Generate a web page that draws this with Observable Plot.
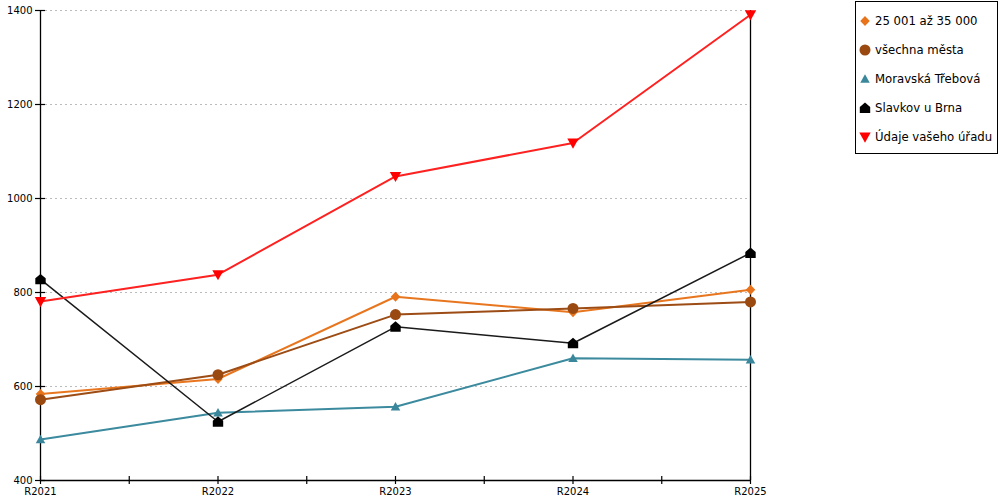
<!DOCTYPE html>
<html>
<head>
<meta charset="utf-8">
<script src="https://cdn.jsdelivr.net/npm/d3@7"></script>
<script src="https://cdn.jsdelivr.net/npm/@observablehq/plot@0.6"></script>
<style>
  html, body { margin: 0; padding: 0; background: #fff; }
  #wrap { position: relative; width: 1000px; height: 500px; font-family: "DejaVu Sans", sans-serif; }
  #legend { position: absolute; left: 855px; top: 1px; width: 143px; height: 153px; border: 1px solid #000; box-sizing: border-box; background: #fff; }
  .item { position: absolute; left: 0; height: 16px; display: flex; align-items: center; font-size: 11.7px; color: #000; white-space: nowrap; }
  .item svg { margin-left: 2px; margin-right: 3px; }
</style>
</head>
<body>
<div id="wrap"><div id="chart"></div><div id="legend"></div></div>
<script>
const years = ["R2021", "R2022", "R2023", "R2024", "R2025"];
const seriesNames = ["25 001 až 35 000", "všechna města", "Moravská Třebová", "Slavkov u Brna", "Údaje vašeho úřadu"];
const s1 = [584, 616, 791, 758, 806];
const s2 = [572, 625, 753, 766, 780];
const s3 = [487, 544, 557, 660, 657];
const s4 = [828, 525, 727, 692, 884];
const s5 = [781, 838, 1047, 1118, 1391];
const yTicks = [400, 600, 800, 1000, 1200, 1400];
const gridTicks = [600, 800, 1000, 1200, 1400];
const xTicks = [0, 0.5, 1, 1.5, 2, 2.5, 3, 3.5, 4];

const colors = ["#e8731a", "#9a4a10", "#3a879b", "#000000", "#ff0000"];
const lineColors = ["#e8761e", "#9c4c14", "#3c8a9e", "#1a1a1a", "#ff2020"];
const lineWidths = [2, 2, 2, 1.5, 2];

// custom symbols
const rOf = size => Math.sqrt(size / Math.PI);
const diamond = { draw(c, size) { const r = rOf(size); c.moveTo(0, -r); c.lineTo(r * 0.95, 0); c.lineTo(0, r); c.lineTo(-r * 0.95, 0); c.closePath(); } };
const circle = { draw(c, size) { const r = rOf(size); c.moveTo(r, 0); c.arc(0, 0, r, 0, 2 * Math.PI); c.closePath(); } };
const triUp = { draw(c, size) { const r = rOf(size); c.moveTo(0, -r * 0.95); c.lineTo(r * 0.95, r * 0.75); c.lineTo(-r * 0.95, r * 0.75); c.closePath(); } };
const house = { draw(c, size) { const r = rOf(size); c.moveTo(0, -r * 1.05); c.lineTo(r, -r * 0.2); c.lineTo(r, r * 0.95); c.lineTo(-r, r * 0.95); c.lineTo(-r, -r * 0.2); c.closePath(); } };
const triDown = { draw(c, size) { const r = rOf(size); c.moveTo(-r * 0.95, -r * 0.75); c.lineTo(r * 0.95, -r * 0.75); c.lineTo(0, r * 0.95); c.closePath(); } };
const symbols = [diamond, circle, triUp, house, triDown];
const radii = [5, 5.5, 5, 5.2, 6];

const allSeries = [s1, s2, s3, s4, s5];
const tables = allSeries.map((vals, k) => vals.map((v, i) => ({ x: i, year: years[i], value: v, series: seriesNames[k] })));

const marks = [
  Plot.gridY(gridTicks, { stroke: "#bbbbbb", strokeOpacity: 1, strokeDasharray: "2,3" }),
  Plot.ruleX([0], { stroke: "#000", strokeWidth: 1.3 }),
  Plot.ruleX([4], { stroke: "#000", strokeWidth: 1.3 }),
  Plot.ruleY([400], { stroke: "#000", strokeWidth: 1.3 }),
  Plot.axisX(xTicks, { tickSize: 8, dy: -4, tickFormat: () => "", label: null, stroke: "#000", strokeWidth: 1.2 }),
  Plot.axisX([0, 1, 2, 3, 4], { tickSize: 0, tickPadding: 7, tickFormat: i => years[i], label: null, fontSize: 10, fill: "#000" }),
  Plot.axisY(yTicks, { tickSize: 10, dx: 5, tickFormat: () => "", label: null, stroke: "#000", strokeWidth: 1.2 }),
  Plot.axisY(yTicks, { tickSize: 0, tickPadding: 8, tickFormat: d => String(d), label: null, fontSize: 10, fill: "#000" })
];
tables.forEach((t, k) => {
  marks.push(Plot.line(t, { x: "x", y: "value", stroke: lineColors[k], strokeWidth: lineWidths[k] }));
  marks.push(Plot.dot(t, { x: "x", y: "value", symbol: () => symbols[k], r: radii[k], fill: colors[k], stroke: "none" }));
});

const chart = Plot.plot({
  width: 1000,
  height: 500,
  marginLeft: 40,
  marginRight: 250,
  marginTop: 10,
  marginBottom: 20,
  style: { fontFamily: "DejaVu Sans, sans-serif", fontSize: "10px", color: "#000", background: "#fff" },
  x: { type: "linear", domain: [0, 4], axis: null, label: null },
  y: { domain: [400, 1400], axis: null, label: null },
  symbol: { type: "identity" },
  marks
});
document.getElementById("chart").appendChild(chart);

// legend
const legend = document.getElementById("legend");
const rowTops = [11, 40, 69, 98, 127];
seriesNames.forEach((name, k) => {
  const item = document.createElement("div");
  item.className = "item";
  item.style.top = rowTops[k] + "px";
  const path = d3.path();
  const rr = radii[k];
  symbols[k].draw(path, Math.PI * rr * rr);
  item.innerHTML = `<svg width="14" height="14" viewBox="-7 -7 14 14"><path d="${path.toString()}" fill="${colors[k]}"></path></svg><span>${name}</span>`;
  legend.appendChild(item);
});
</script>
</body>
</html>
